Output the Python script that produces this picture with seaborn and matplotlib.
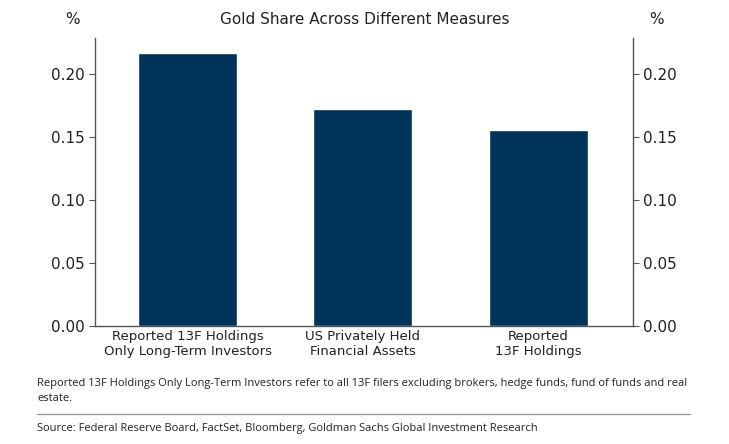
import numpy as np
import pandas as pd
import matplotlib.pyplot as plt
import seaborn as sns
from matplotlib.ticker import FixedLocator, NullFormatter

categories = ["Reported 13F Holdings\nOnly Long-Term Investors",
              "US Privately Held\nFinancial Assets",
              "Reported\n13F Holdings"]
gold_share = [0.2172, 0.1723, 0.1558]
y_ticks = [0.00, 0.05, 0.10, 0.15, 0.20]

NAVY = "#003359"
SPINE = "#555555"

sns.set_style("white")
plt.rcParams["font.family"] = ["DejaVu Sans"]

df = pd.DataFrame({"measure": categories, "share": gold_share})

fig = plt.figure(figsize=(7.29, 4.44), dpi=100)
ax = fig.add_axes([0.130, 0.266, 0.738, 0.648])

sns.barplot(data=df, x="measure", y="share", color=NAVY, width=0.565,
            saturation=1, ax=ax)

ax.set_xlim(-0.53, 2.54)
ax.set_ylim(0, 0.2286)
ax.set_yticks(y_ticks)
ax.set_yticklabels([f"{v:.2f}" for v in y_ticks])
ax.set_xlabel("")
ax.set_ylabel("")

# category labels without ticks, small ticks between categories
ax.tick_params(axis="x", which="major", length=0, labelsize=9.5,
               colors="#222222", pad=3)
ax.xaxis.set_minor_locator(FixedLocator([0.5, 1.5]))
ax.xaxis.set_minor_formatter(NullFormatter())
ax.tick_params(axis="x", which="minor", length=4, color=SPINE, direction="out")
ax.tick_params(axis="y", length=4, color=SPINE, labelsize=11,
               labelcolor="#222222", direction="out", left=True)

for side in ["left", "right", "bottom"]:
    ax.spines[side].set_visible(True)
    ax.spines[side].set_color(SPINE)
    ax.spines[side].set_linewidth(1.0)
ax.spines["top"].set_visible(False)

ax2 = ax.twinx()
ax2.set_ylim(ax.get_ylim())
ax2.set_yticks(y_ticks)
ax2.set_yticklabels([f"{v:.2f}" for v in y_ticks])
ax2.tick_params(axis="y", length=4, color=SPINE, labelsize=11,
                labelcolor="#222222", direction="out", right=True)
for side in ["left", "right", "bottom", "top"]:
    ax2.spines[side].set_visible(False)

fig.text(0.5, 0.957, "Gold Share Across Different Measures", ha="center",
         va="center", fontsize=11, color="#222222")
fig.text(0.100, 0.957, "%", ha="center", va="center", fontsize=11, color="#222222")
fig.text(0.900, 0.957, "%", ha="center", va="center", fontsize=11, color="#222222")

note_font = ["Liberation Sans Narrow", "Open Sans", "DejaVu Sans"]
fig.text(0.051, 0.119,
         "Reported 13F Holdings Only Long-Term Investors refer to all 13F filers "
         "excluding brokers, hedge funds, fund of funds and real\nestate.",
         ha="left", va="center", fontsize=8, color="#222222",
         family=note_font, linespacing=1.5)
fig.add_artist(plt.Line2D([0.051, 0.946], [0.0676, 0.0676],
                          transform=fig.transFigure, color="#999999", lw=1))
fig.text(0.051, 0.036,
         "Source: Federal Reserve Board, FactSet, Bloomberg, Goldman Sachs "
         "Global Investment Research",
         ha="left", va="center", fontsize=8, color="#222222", family=note_font)

fig.savefig("out.png", dpi=100)
